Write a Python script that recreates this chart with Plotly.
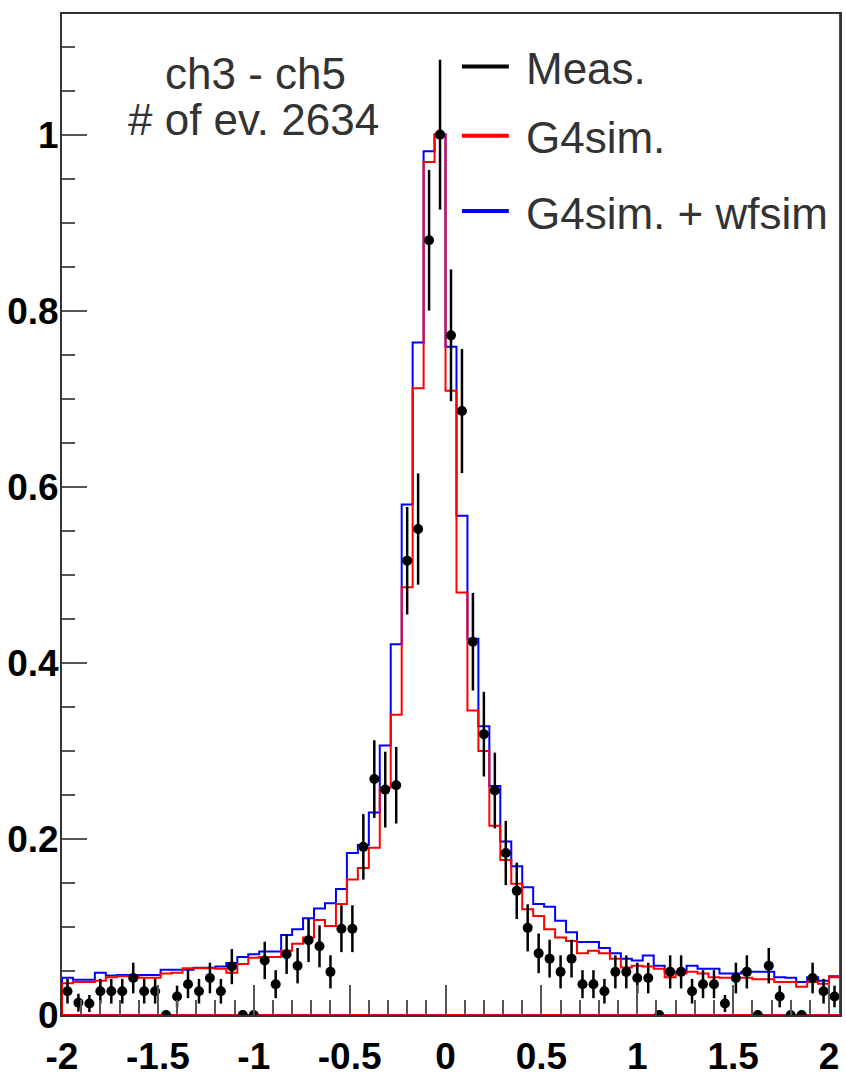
import numpy as np
import plotly.graph_objects as go

# Binning: 70 bins of width 4/70 from -2, plus one extra bin past +2
x_low = -2.0
bin_width = 4.0 / 70
n_bins = 71

# Measured time difference ch3 - ch5 (normalised to peak)
meas = [0.027, 0.014, 0.013, 0.027, 0.027, 0.027, 0.042, 0.027, 0.027, 0.0,
        0.021, 0.035, 0.027, 0.042, 0.027, 0.055, 0.0, 0.0, 0.062, 0.035,
        0.069, 0.056, 0.085, 0.078, 0.049, 0.098, 0.098, 0.191, 0.268, 0.256,
        0.261, 0.516, 0.552, 0.880, 1.000, 0.772, 0.686, 0.424, 0.319, 0.255,
        0.184, 0.141, 0.099, 0.070, 0.064, 0.049, 0.064, 0.035, 0.035, 0.027,
        0.049, 0.049, 0.042, 0.042, 0.0, 0.049, 0.049, 0.027, 0.035, 0.035,
        0.013, 0.042, 0.049, 0.0, 0.056, 0.021, 0.0, 0.0, 0.042, 0.027, 0.021]

meas_err = [0.0140, 0.0101, 0.0097, 0.0140, 0.0140, 0.0140, 0.0174, 0.0140, 0.0140, 0.0,
            0.0123, 0.0159, 0.0140, 0.0174, 0.0140, 0.0200, 0.0, 0.0, 0.0212, 0.0159,
            0.0224, 0.0201, 0.0248, 0.0238, 0.0188, 0.0266, 0.0266, 0.0372, 0.0441, 0.0431,
            0.0435, 0.0611, 0.0632, 0.0799, 0.0851, 0.0748, 0.0705, 0.0554, 0.0481, 0.0430,
            0.0365, 0.0320, 0.0268, 0.0225, 0.0215, 0.0188, 0.0215, 0.0159, 0.0159, 0.0140,
            0.0188, 0.0188, 0.0174, 0.0174, 0.0, 0.0188, 0.0188, 0.0140, 0.0159, 0.0159,
            0.0097, 0.0174, 0.0188, 0.0, 0.0201, 0.0123, 0.0, 0.0, 0.0174, 0.0140, 0.0123]

# Geant4 simulation
g4sim = [0.036, 0.0375, 0.0375, 0.039, 0.043, 0.044, 0.044, 0.0424, 0.0424, 0.047,
         0.048, 0.053, 0.053, 0.053, 0.0525, 0.048, 0.058, 0.065, 0.066, 0.066,
         0.073, 0.081, 0.088, 0.108, 0.101, 0.126, 0.154, 0.167, 0.190, 0.258,
         0.341, 0.486, 0.712, 0.969, 1.000, 0.709, 0.480, 0.346, 0.300, 0.215,
         0.176, 0.149, 0.120, 0.1125, 0.0975, 0.088, 0.084, 0.070, 0.073, 0.070,
         0.064, 0.054, 0.056, 0.055, 0.0525, 0.043, 0.047, 0.049, 0.047, 0.043,
         0.0424, 0.0424, 0.0424, 0.0405, 0.0405, 0.0375, 0.0375, 0.032, 0.0375, 0.0356, 0.043]

# Geant4 simulation + waveform simulation
g4sim_wf = [0.0424, 0.040, 0.040, 0.048, 0.045, 0.0453, 0.0453, 0.0453, 0.0453, 0.0513,
            0.0513, 0.0513, 0.0536, 0.0536, 0.055, 0.059, 0.066, 0.069, 0.072, 0.072,
            0.091, 0.0975, 0.110, 0.121, 0.127, 0.143, 0.184, 0.193, 0.230, 0.306,
            0.421, 0.580, 0.764, 0.981, 1.000, 0.759, 0.567, 0.4275, 0.328, 0.260,
            0.197, 0.169, 0.145, 0.126, 0.123, 0.107, 0.094, 0.083, 0.083, 0.076,
            0.070, 0.064, 0.062, 0.0675, 0.056, 0.049, 0.049, 0.056, 0.0525, 0.0525,
            0.047, 0.047, 0.049, 0.049, 0.049, 0.043, 0.0424, 0.0375, 0.043, 0.039, 0.044]

x_ticks = [-2, -1.5, -1, -0.5, 0, 0.5, 1, 1.5, 2]
x_tick_text = ["-2", "-1.5", "-1", "-0.5", "0", "0.5", "1", "1.5", "2"]
y_ticks = [0, 0.2, 0.4, 0.6, 0.8, 1.0]
y_tick_text = ["0", "0.2", "0.4", "0.6", "0.8", "1"]

edges = x_low + bin_width * np.arange(n_bins + 1)
centers = x_low + bin_width * (np.arange(n_bins) + 0.5)
x_high = edges[-1]


def step_outline(values):
    """Closed histogram outline: steps on top, baseline at zero."""
    xs = [edges[0]] + list(edges) + [edges[-1], edges[0]]
    ys = [0.0] + list(values) + [values[-1], 0.0, 0.0]
    return xs, ys


fig = go.Figure()

bx, by = step_outline(g4sim_wf)
fig.add_trace(go.Scatter(x=bx, y=by, mode="lines", line=dict(color="#0000ff", width=2, shape="hv"),
                         hoverinfo="skip", showlegend=False))
rx, ry = step_outline(g4sim)
fig.add_trace(go.Scatter(x=rx, y=ry, mode="lines", line=dict(color="#ff0000", width=2, shape="hv"),
                         hoverinfo="skip", showlegend=False))
fig.add_trace(go.Scatter(
    x=centers, y=meas, mode="markers",
    marker=dict(color="black", size=10, symbol="circle"),
    error_y=dict(type="data", array=meas_err, visible=True, color="black", thickness=2.5, width=0),
    showlegend=False,
))

# frame: right edge coincides with the red histogram's closing line
fig.add_shape(type="line", xref="x", yref="paper", x0=x_high, x1=x_high, y0=0, y1=1,
              line=dict(color="#a32a2a", width=2))

axis_font = dict(family="Liberation Sans, Arial, sans-serif", size=37, color="black", weight="bold")

fig.update_xaxes(
    range=[x_low, x_high], showgrid=False, zeroline=False,
    showline=True, linecolor="#333333", linewidth=2, mirror=True,
    tickmode="array", tickvals=x_ticks, ticktext=x_tick_text,
    ticks="inside", ticklen=30, tickwidth=2, tickcolor="#555555",
    minor=dict(dtick=0.1, tick0=0, ticks="inside", ticklen=15, tickwidth=2, tickcolor="#555555"),
    tickfont=axis_font, ticklabelstandoff=8,
)
fig.update_yaxes(
    range=[0, 1.137], showgrid=False, zeroline=False,
    showline=True, linecolor="#333333", linewidth=2, mirror=True,
    tickmode="array", tickvals=y_ticks, ticktext=y_tick_text,
    ticks="inside", ticklen=25, tickwidth=2, tickcolor="#555555",
    minor=dict(dtick=0.05, tick0=0, ticks="inside", ticklen=13, tickwidth=2, tickcolor="#555555"),
    tickfont=axis_font, ticklabelstandoff=-6,
)

W, H = 846, 1081
L, R, T, B = 62, 4, 14, 56
pw, ph = W - L - R, H - T - B


def px(xp):
    return (xp - L) / pw


def py(yp):
    return 1 - (yp - T) / ph


text_font = dict(family="Liberation Sans, Arial, sans-serif", size=44, color="#333333")

# run info
fig.add_annotation(x=px(256), y=py(74), xref="paper", yref="paper", text="ch3 - ch5",
                   showarrow=False, font=text_font, xanchor="center", yanchor="middle")
fig.add_annotation(x=px(254), y=py(121), xref="paper", yref="paper", text="# of ev. 2634",
                   showarrow=False, font=text_font, xanchor="center", yanchor="middle")

# legend
legend_items = [("Meas.", "black", 67), ("G4sim.", "#ff0000", 137), ("G4sim. + wfsim", "#0000ff", 213)]
for label, colour, yc in legend_items:
    fig.add_shape(type="line", xref="paper", yref="paper", x0=px(463), x1=px(510), y0=py(yc), y1=py(yc),
                  line=dict(color=colour, width=4))
    fig.add_annotation(x=px(525), y=py(yc + 2), xref="paper", yref="paper", text=label,
                       showarrow=False, font=text_font, xanchor="left", yanchor="middle")

fig.update_layout(
    width=W, height=H,
    margin=dict(l=L, r=R, t=T, b=B),
    paper_bgcolor="white", plot_bgcolor="white",
    showlegend=False,
)

fig.write_html("out.html")
